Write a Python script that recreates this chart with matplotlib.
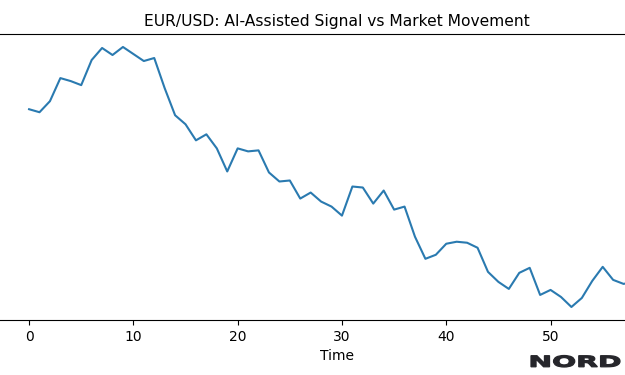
import matplotlib
matplotlib.use("Agg")
import matplotlib.pyplot as plt
import numpy as np
from matplotlib.textpath import TextPath
from matplotlib.patches import PathPatch
from matplotlib.font_manager import FontProperties
from matplotlib.transforms import Affine2D

# EUR/USD price (one value per time step)
time = np.arange(60)
price = [1.1010, 1.1007, 1.1018, 1.1041, 1.1038, 1.1034, 1.1059, 1.1071,
         1.1064, 1.1072, 1.1065, 1.1058, 1.1061, 1.1031, 1.1004, 1.0995,
         1.0979, 1.0985, 1.0971, 1.0948, 1.0971, 1.0968, 1.0969, 1.0947,
         1.0938, 1.0939, 1.0921, 1.0927, 1.0918, 1.0913, 1.0904, 1.0933,
         1.0932, 1.0916, 1.0929, 1.0910, 1.0913, 1.0883, 1.0861, 1.0865,
         1.0876, 1.0878, 1.0877, 1.0872, 1.0848, 1.0838, 1.0831, 1.0847,
         1.0852, 1.0825, 1.0830, 1.0823, 1.0813, 1.0822, 1.0839, 1.0853,
         1.0840, 1.0836, 1.0838, 1.0832]

fig = plt.figure(figsize=(6.25, 3.75), dpi=100)
# axes run past the right edge of the picture (chart was cropped)
ax = fig.add_axes([-0.0027, 0.1467, 1.083, 0.7627])
ax.plot(time, price, color='#2a7ab0', linewidth=1.5)
ax.set_title('EUR/USD: AI-Assisted Signal vs Market Movement', fontsize=11.2)
ax.set_xlabel('Time')
ax.set_xticks([0, 10, 20, 30, 40, 50])
ax.set_yticks([])
ax.spines['left'].set_visible(False)
ax.spines['right'].set_visible(False)

# NORD logo, wide heavy lettering
fp = FontProperties(family='DejaVu Sans', weight='bold')
tp = TextPath((0, 0), 'NORD', size=20, prop=fp)
ext = tp.get_extents()
sx = 89 / ext.width
sy = 11.5 / ext.height
tr = Affine2D().translate(-ext.x0, -ext.y0).scale(sx, sy).translate(531, 375 - 367)
tp = tr.transform_path(tp)
fig.patches.append(PathPatch(tp, facecolor='#26262b', edgecolor='#26262b',
                             linewidth=0.9, transform=None, figure=fig))

fig.savefig('out.png', dpi=100)
